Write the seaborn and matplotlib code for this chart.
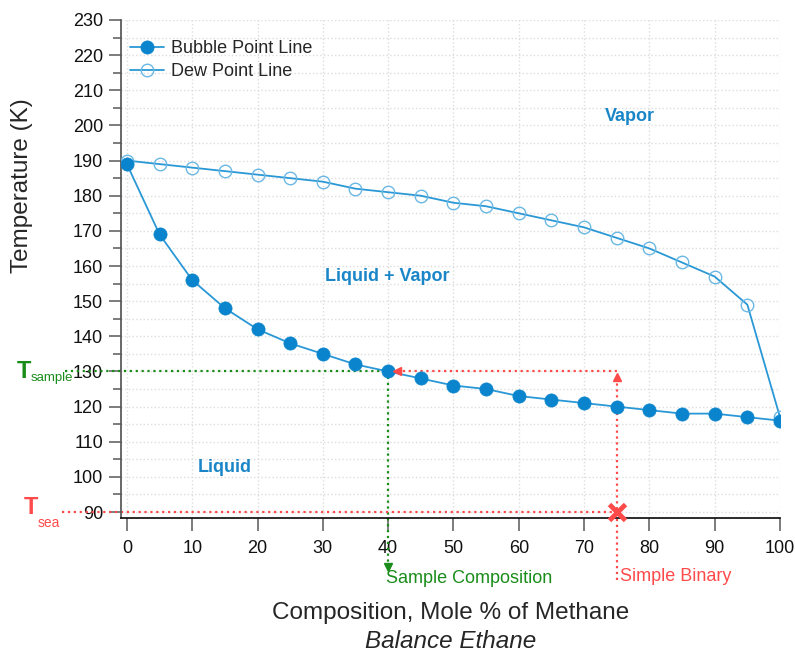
import matplotlib
matplotlib.use("Agg")
import matplotlib.pyplot as plt
import seaborn as sns
import pandas as pd
import numpy as np

composition = [0, 5, 10, 15, 20, 25, 30, 35, 40, 45, 50, 55, 60, 65, 70, 75, 80, 85, 90, 95, 100]
bubble_T = [189, 169, 156, 148, 142, 138, 135, 132, 130, 128, 126, 125, 123, 122, 121, 120, 119, 118, 118, 117, 116]
dew_T = [190, 189, 188, 187, 186, 185, 184, 182, 181, 180, 178, 177, 175, 173, 171, 168, 165, 161, 157, 149, 117]

sample_x = 40
sample_T = 130
sea_T = 90
binary_x = 75

sns.set_theme(style="ticks")
plt.rcParams['font.family'] = ['Liberation Sans', 'DejaVu Sans']

fig = plt.figure(figsize=(7.95, 6.54), dpi=100)
ax = fig.add_axes([121/795, 1-518/654, (780-121)/795, (518-20)/654])

df = pd.DataFrame({"x": composition, "bubble": bubble_T, "dew": dew_T})

line_c = "#2a98d6"
mark_c = "#0a84cc"
dew_c = "#6bb8e4"
green = "#1a8c1a"
red = "#ff4a4a"

sns.lineplot(data=df, x="x", y="dew", ax=ax, color=line_c, lw=1.3, marker="o", ms=9,
             markerfacecolor="none", markeredgecolor=dew_c, markeredgewidth=1.0,
             label="Dew Point Line", zorder=3)
sns.lineplot(data=df, x="x", y="bubble", ax=ax, color=line_c, lw=1.3, marker="o", ms=9.5,
             markerfacecolor=mark_c, markeredgecolor=mark_c, markeredgewidth=0.5,
             label="Bubble Point Line", zorder=4)

ax.set_xlim(-0.9, 100)
ax.set_ylim(88.3, 230)
ax.set_xticks(np.arange(0, 101, 10))
ax.set_yticks(np.arange(90, 231, 10))
ax.set_yticks(np.arange(95, 231, 10), minor=True)
ax.grid(True, which="major", axis="both", color="#dddddd", ls=":", lw=1.0)
ax.grid(True, which="minor", axis="y", color="#dddddd", ls=":", lw=1.0)
ax.set_axisbelow(True)
for s in ["top", "right"]:
    ax.spines[s].set_visible(False)
ax.spines["left"].set_color("#555555")
ax.spines["bottom"].set_color("#111111")
ax.tick_params(axis="both", which="major", labelsize=13, length=9, width=1.2, color="#666666",
               pad=4, labelcolor="#111111")
ax.tick_params(axis="y", which="minor", length=6, width=1.2, color="#666666")
ax.tick_params(axis="x", pad=7)

ax.set_ylabel("Temperature (K)", fontsize=17.5)
ax.yaxis.set_label_coords(-0.1335, 0.667)
ax.set_xlabel("Composition, Mole % of Methane", fontsize=17.5, labelpad=32)
fig.text((272+630)/2/795, 1-642/654, "Balance Ethane", fontsize=17.5, style="italic",
         ha="center", va="center")

# legend (Bubble first)
h, l = ax.get_legend_handles_labels()
order = [l.index("Bubble Point Line"), l.index("Dew Point Line")]
ax.legend([h[i] for i in order], [l[i] for i in order], loc="upper left", frameon=False,
          fontsize=13, handlelength=1.85, handletextpad=0.4, borderaxespad=0.3, labelspacing=0.33,
          bbox_to_anchor=(-0.005, 0.985))

# region labels
region_c = "#1a86c8"
ax.text(77, 202.4, "Vapor", color=region_c, fontsize=13, fontweight="bold", ha="center", va="center")
ax.text(39.8, 157, "Liquid + Vapor", color=region_c, fontsize=13, fontweight="bold", ha="center", va="center")
ax.text(15, 102.8, "Liquid", color=region_c, fontsize=13, fontweight="bold", ha="center", va="center")

# green sample lines
ax.plot([-9.5, sample_x], [sample_T, sample_T], ls=":", color=green, lw=1.6, clip_on=False, zorder=2)
ax.plot([sample_x, sample_x], [sample_T, 75.5], ls=":", color=green, lw=1.6, clip_on=False, zorder=2)
ax.plot([sample_x], [74.3], marker="v", color=green, ms=6, clip_on=False)
ax.text(sample_x - 0.4, 71.2, "Sample Composition", color=green, fontsize=13, ha="left", va="center")

# red lines
ax.plot([-10, binary_x], [sea_T, sea_T], ls=":", color=red, lw=1.6, clip_on=False, zorder=2)
ax.plot([binary_x, binary_x], [70.6, 129.0], ls=":", color=red, lw=1.6, clip_on=False, zorder=2)
ax.plot([binary_x], [128.4], marker="^", color=red, ms=6, clip_on=False)
ax.plot([binary_x, 42.0], [sample_T, sample_T], ls=":", color=red, lw=1.6, zorder=2)
ax.plot([41.4], [sample_T], marker="<", color=red, ms=6, zorder=5)
ax.plot([binary_x], [sea_T], marker="x", color=red, ms=11, mew=3.5, clip_on=False, zorder=6)
ax.text(binary_x + 0.5, 71.7, "Simple Binary", color=red, fontsize=13, ha="left", va="center")

# T labels
fig.text(17/795, 1-371/654, "T", color=green, fontsize=17, fontweight="bold", ha="left", va="center")
fig.text(31/795, 1-378/654, "sample", color=green, fontsize=9.5, ha="left", va="center")
fig.text(24/795, 1-507/654, "T", color=red, fontsize=17, fontweight="bold", ha="left", va="center")
fig.text(38/795, 1-523/654, "sea", color=red, fontsize=10, ha="left", va="center")

fig.savefig("out.png", dpi=100)
